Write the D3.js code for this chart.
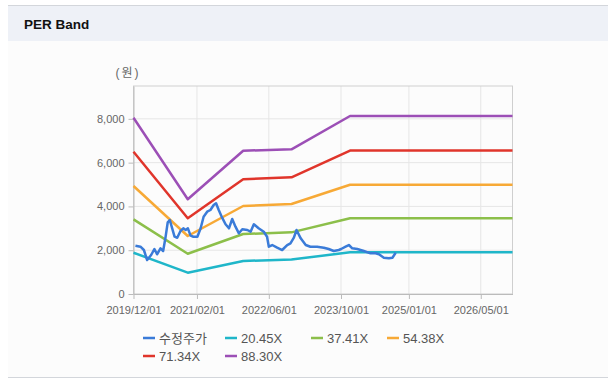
<!DOCTYPE html>
<html>
<head>
<meta charset="utf-8">
<script src="https://cdn.jsdelivr.net/npm/d3@7"></script>
<style>
  html, body { margin: 0; padding: 0; background: #fff; }
  svg { display: block; font-family: "Liberation Sans", Arial, "Noto Sans CJK KR", sans-serif; }
</style>
</head>
<body>
<svg id="chart" width="616" height="392"></svg>
<script>
// PER band chart data
const xTickLabels = ["2019/12/01", "2021/02/01", "2022/06/01", "2023/10/01", "2025/01/01", "2026/05/01"];
const yTicks = [0, 2000, 4000, 6000, 8000];
const seriesNames = ["수정주가", "20.45X", "37.41X", "54.38X", "71.34X", "88.30X"];
const seriesColors = ["#3a7bd8", "#1fb6c9", "#8cbf4a", "#f7a936", "#e0352b", "#9c4fb6"];

const priceDates = [
  "2019-12-14", "2020-01-17", "2020-02-09", "2020-03-02", "2020-03-29", "2020-04-20", "2020-05-08",
  "2020-05-31", "2020-06-18", "2020-07-03", "2020-07-19", "2020-08-02", "2020-08-18", "2020-09-03",
  "2020-09-21", "2020-10-13", "2020-11-01", "2020-11-17", "2020-12-02", "2020-12-20", "2021-01-08",
  "2021-02-04", "2021-02-26", "2021-03-18", "2021-04-11", "2021-05-03", "2021-05-25", "2021-06-10",
  "2021-06-28", "2021-07-21", "2021-08-13", "2021-09-05", "2021-09-27", "2021-10-19", "2021-11-11",
  "2021-12-04", "2022-01-07", "2022-01-29", "2022-02-20", "2022-03-24", "2022-04-28", "2022-05-20",
  "2022-06-01", "2022-06-24", "2022-07-27", "2022-08-30", "2022-10-03", "2022-10-25", "2022-11-17",
  "2022-12-05", "2023-01-02", "2023-02-05", "2023-03-08", "2023-04-23", "2023-06-07", "2023-07-10",
  "2023-08-13", "2023-09-16", "2023-10-02", "2023-11-01", "2023-11-23", "2023-12-16", "2024-01-19",
  "2024-03-03", "2024-04-17", "2024-05-21", "2024-06-13", "2024-07-16", "2024-08-19", "2024-09-12",
  "2024-10-04"
];
const priceValues = [
  2206, 2160, 2009, 1553, 1781, 2055, 1813,
  2087, 1964, 2543, 3275, 3380, 3000, 2617,
  2571, 2878, 3000, 2923, 3000, 2663, 2617,
  2617, 3000, 3531, 3759, 3837, 4065, 4142,
  3837, 3485, 3184, 3000, 3425, 3074, 2772,
  2955, 2923, 2845, 3184, 3000, 2845, 2617,
  2160, 2237, 2115, 2009, 2237, 2316, 2571,
  2923, 2543, 2237, 2160, 2160, 2115, 2055,
  1964, 2009, 2055, 2160, 2237, 2087, 2055,
  1964, 1858, 1858, 1813, 1658, 1631, 1658,
  1886
];

const bandDates = ["2019-12-01", "2020-12-01", "2021-12-10", "2022-11-01", "2023-12-01", "2026-12-01"];
const band2045 = [1886, 973, 1507, 1573, 1905, 1905];
const band3741 = [3410, 1840, 2740, 2816, 3461, 3461];
const band5438 = [4933, 2649, 4019, 4110, 4992, 4992];
const band7134 = [6500, 3460, 5239, 5328, 6549, 6549];
const band8830 = [8052, 4326, 6545, 6608, 8130, 8130];

const parse = d3.timeParse("%Y-%m-%d");
const parseTick = d3.timeParse("%Y/%m/%d");

const svg = d3.select("#chart");

// panel + header
svg.append("rect").attr("x", 8).attr("y", 5).attr("width", 600).attr("height", 373).attr("fill", "#fcfcfc");
svg.append("rect").attr("x", 8).attr("y", 5).attr("width", 600).attr("height", 36).attr("fill", "#eef1f7");
svg.append("line").attr("x1", 8).attr("x2", 608).attr("y1", 5.5).attr("y2", 5.5).attr("stroke", "#d3d6db");
svg.append("line").attr("x1", 8).attr("x2", 608).attr("y1", 377.5).attr("y2", 377.5).attr("stroke", "#d3d6db");
svg.append("text").attr("x", 24).attr("y", 29).text("PER Band")
    .attr("font-size", "13.5px").attr("font-weight", "bold").attr("fill", "#111");

const plot = { left: 133.5, right: 512.5, top: 86, bottom: 294 };

const x = d3.scaleTime()
    .domain([parse("2019-12-01"), parse("2026-12-01")])
    .range([plot.left, plot.right]);
const y = d3.scaleLinear()
    .domain([0, 9500])
    .range([plot.bottom, plot.top]);

// grid
const tickDates = xTickLabels.map(parseTick);
svg.append("g").selectAll("line").data(tickDates.slice(1)).enter().append("line")
    .attr("x1", d => x(d)).attr("x2", d => x(d))
    .attr("y1", plot.top).attr("y2", plot.bottom)
    .attr("stroke", "#e6e6e6");
svg.append("g").selectAll("line").data(yTicks.slice(1)).enter().append("line")
    .attr("x1", plot.left).attr("x2", plot.right)
    .attr("y1", d => y(d)).attr("y2", d => y(d))
    .attr("stroke", "#e6e6e6");

// plot frame
svg.append("rect").attr("x", plot.left).attr("y", plot.top)
    .attr("width", plot.right - plot.left).attr("height", plot.bottom - plot.top)
    .attr("fill", "none").attr("stroke", "#cfcfcf");

// axes
const xAxis = svg.append("g").attr("transform", `translate(0,${plot.bottom})`)
    .call(d3.axisBottom(x).tickValues(tickDates).tickFormat(d3.timeFormat("%Y/%m/%d")).tickSize(5).tickSizeOuter(0));
const yAxis = svg.append("g").attr("transform", `translate(${plot.left},0)`)
    .call(d3.axisLeft(y).tickValues(yTicks).tickFormat(d3.format(",")).tickSize(5).tickSizeOuter(0));
[xAxis, yAxis].forEach(a => {
    a.select(".domain").attr("stroke", "#bbb");
    a.selectAll(".tick line").attr("stroke", "#bbb");
    a.selectAll(".tick text").attr("fill", "#666").attr("font-size", "11px").attr("font-family", null);
});
xAxis.selectAll(".tick text").attr("dy", "1.05em");
yAxis.selectAll(".tick text").attr("dx", "-1px");

svg.append("text").attr("x", 128).attr("y", 77).attr("text-anchor", "middle")
    .attr("fill", "#666").attr("font-size", "12px").attr("letter-spacing", "2px").text("(원)");

// lines
const line = d3.line().x(d => x(d[0])).y(d => y(d[1]));
const bands = [band2045, band3741, band5438, band7134, band8830];
const lineData = [priceDates.map((d, i) => [parse(d), priceValues[i]])]
    .concat(bands.map(b => bandDates.map((d, i) => [parse(d), b[i]])));

// draw bands first, price on top
[1, 2, 3, 4, 5, 0].forEach(i => {
    svg.append("path").datum(lineData[i])
        .attr("d", line)
        .attr("fill", "none")
        .attr("stroke", seriesColors[i])
        .attr("stroke-width", 2.5)
        .attr("stroke-linejoin", "round");
});

// legend
const legendPos = [[143, 338], [225, 338], [311, 338], [387, 338], [143, 356], [225, 356]];
const legend = svg.append("g").selectAll("g").data(seriesNames).enter().append("g")
    .attr("transform", (d, i) => `translate(${legendPos[i][0]},${legendPos[i][1]})`);
legend.append("line").attr("x1", 0).attr("x2", 12).attr("y1", 0).attr("y2", 0)
    .attr("stroke", (d, i) => seriesColors[i]).attr("stroke-width", 2.5);
legend.append("text").attr("x", 16).attr("y", 4.5).text(d => d)
    .attr("fill", "#555").attr("font-size", "13px");
</script>
</body>
</html>
